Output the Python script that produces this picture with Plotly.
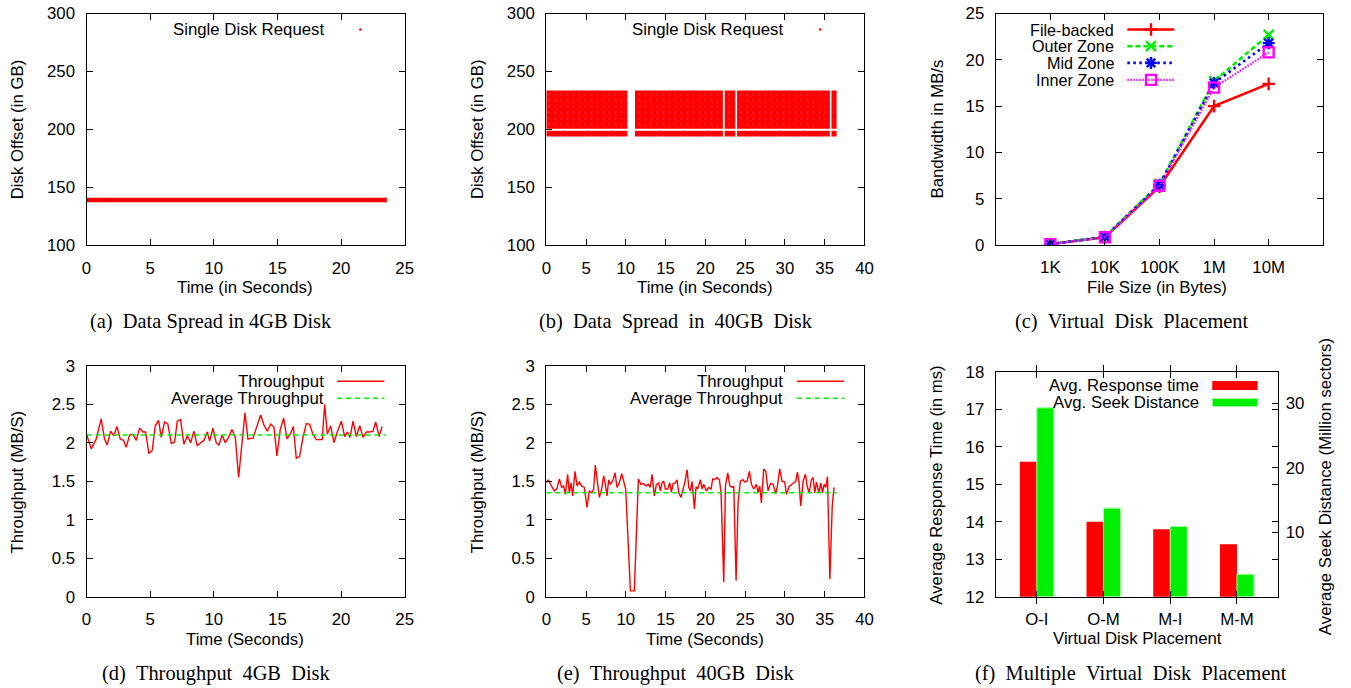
import plotly.graph_objects as go

# The page photo covers a 1367x707 area (figure plus the 8px body margin) and is
# resampled to 1351x688; positions below are given in final picture pixels and
# mapped back into figure space.
PIC_W, PIC_H = 1351, 688
BODY = 8
SX, SY = PIC_W / 1367.0, PIC_H / 707.0
W, H = 1351, 691
SANS = "Liberation Sans"
SERIF = "Liberation Serif"
FS = 16.8          # tick / label font size
KEYFS = 16.2       # legend label font size
CAP = 20.4         # caption font size
RED, GREEN, BLUE, MAGENTA = "#ff0000", "#00ee00", "#0000ff", "#ff00ff"

# ---------------- data ----------------
# (a) 4GB disk: span of issued requests (time in s, offset in GB)
req4_t_start = [0.0]
req4_t_end = [23.6]
req4_off_low = 137.1
req4_off_high = 141.0

# (b) 40GB disk: request bursts, split around the 200GB boundary
req40_t_start = [0.0, 11.15, 22.43, 23.98, 35.85]
req40_t_end = [10.2, 22.2, 23.77, 35.65, 36.5]
req40_upper_band = [200.5, 233.6]
req40_lower_band = [194.0, 198.8]

# (c) bandwidth vs file size
file_sizes = ["1K", "10K", "100K", "1M", "10M"]
bw_file_backed = [0.1, 0.85, 6.3, 15.0, 17.4]
bw_outer_zone = [0.1, 0.9, 6.6, 17.7, 22.7]
bw_mid_zone = [0.1, 0.9, 6.5, 17.5, 21.8]
bw_inner_zone = [0.1, 0.85, 6.4, 17.0, 20.8]

# (d) throughput, 4GB disk
t4 = [0.0, 0.37, 0.76, 1.15, 1.41, 1.62, 1.89, 2.15, 2.39, 2.65, 2.91, 3.12, 3.38, 3.64,
      3.91, 4.17, 4.43, 4.64, 4.90, 5.16, 5.40, 5.66, 5.87, 6.13, 6.39, 6.66, 6.92, 7.13,
      7.39, 7.65, 7.92, 8.18, 8.44, 8.70, 8.96, 9.22, 9.49, 9.67, 9.93, 10.19, 10.40,
      10.66, 10.90, 11.16, 11.43, 11.69, 11.95, 12.45, 12.68, 13.08, 13.34, 13.68, 13.94,
      14.20, 14.46, 14.73, 14.96, 15.22, 15.49, 15.75, 16.01, 16.25, 16.48, 16.74, 17.01,
      17.27, 17.53, 17.79, 18.05, 18.31, 18.52, 18.71, 18.92, 19.18, 19.44, 19.70, 20.02,
      20.28, 20.49, 20.70, 20.94, 21.20, 21.47, 21.73, 21.99, 22.25, 22.51, 22.72, 22.99,
      23.22]
tp4 = [2.11, 1.92, 2.05, 2.31, 2.05, 1.97, 2.15, 2.09, 2.21, 2.05, 2.03, 1.94, 2.10, 2.11,
       2.03, 2.19, 2.14, 2.14, 1.86, 1.90, 2.22, 2.29, 2.07, 2.27, 2.24, 1.99, 2.01, 2.28,
       2.30, 1.98, 2.09, 2.00, 2.15, 1.96, 2.00, 2.03, 2.14, 2.02, 2.19, 2.00, 1.97,
       2.10, 2.00, 2.07, 2.17, 2.07, 1.55, 2.39, 2.05, 2.06, 2.19, 2.36, 2.23,
       2.15, 2.24, 2.20, 1.83, 2.17, 2.32, 2.05, 2.11, 2.21, 1.80, 1.82, 2.07,
       2.25, 2.24, 2.11, 2.04, 2.04, 2.04, 2.50, 2.11, 2.22, 2.00, 2.14, 2.28,
       2.08, 2.14, 2.07, 2.28, 2.08, 2.22, 2.07, 2.14, 2.14, 2.15, 2.27, 2.08,
       2.21]
avg_tp4 = 2.1
avg_span4 = [0.0, 23.5]

# (e) throughput, 40GB disk
t40 = [0.0, 0.25, 0.59, 1.01, 1.34, 1.64, 1.93, 2.18, 2.39, 2.68, 2.89, 3.10, 3.31, 3.61,
       3.86, 4.15, 4.44, 4.78, 5.11, 5.41, 5.70, 5.95, 6.16, 6.46, 6.67, 6.96, 7.21, 7.42,
       7.63, 7.84, 8.05, 8.34, 8.64, 8.89, 9.18, 9.48, 9.73, 9.98, 10.57, 11.07, 11.57,
       11.91, 12.20, 12.54, 12.83, 13.08, 13.29, 13.58, 13.84, 14.13, 14.34, 14.55, 14.76,
       14.97, 15.27, 15.52, 15.73, 15.94, 16.23, 16.44, 16.65, 16.94, 17.20, 17.40, 17.70,
       17.91, 18.12, 18.32, 18.62, 18.83, 19.04, 19.37, 19.58, 19.79, 20.13, 20.42, 20.71,
       20.92, 21.17, 21.47, 21.76, 21.97, 22.31, 22.52, 22.81, 23.07, 23.36, 23.57, 23.86,
       24.11, 24.40, 24.70, 24.95, 25.24, 25.54, 25.79, 26.08, 26.42, 26.62, 26.83, 27.04,
       27.34, 27.59, 27.88, 28.18, 28.51, 28.85, 29.06, 29.35, 29.64, 29.98, 30.19, 30.52,
       30.82, 31.11, 31.36, 31.57, 31.78, 31.99, 32.29, 32.58, 32.79, 33.04, 33.33, 33.54,
       33.75, 33.96, 34.26, 34.51, 34.72, 34.93, 35.14, 35.35, 35.65, 35.95, 36.17]
tp40 = [1.48, 1.52, 1.45, 1.375, 1.405, 1.53, 1.42, 1.44, 1.33, 1.59, 1.35, 1.48, 1.31, 1.63,
        1.44, 1.49, 1.44, 1.42, 1.16, 1.375, 1.35, 1.40, 1.71, 1.48, 1.29, 1.40, 1.57, 1.46,
        1.31, 1.52, 1.46, 1.50, 1.61, 1.42, 1.48, 1.60, 1.50, 1.40, 0.078, 0.078, 1.53,
        1.46, 1.47, 1.44, 1.46, 1.42, 1.59, 1.31, 1.46, 1.48, 1.375, 1.48, 1.50,
        1.40, 1.40, 1.48, 1.36, 1.47, 1.48, 1.52, 1.35, 1.29, 1.40, 1.48, 1.65,
        1.42, 1.375, 1.50, 1.14, 1.43, 1.40, 1.52, 1.40, 1.46, 1.375, 1.42, 1.40,
        1.53, 1.52, 1.55, 1.52, 1.35, 0.19, 1.44, 1.61, 1.44, 1.42, 1.43, 0.21,
        1.22, 1.50, 1.52, 1.49, 1.50, 1.63, 1.46, 1.40, 1.46, 1.35, 1.44, 1.22,
        1.66, 1.63, 1.375, 1.47, 1.46, 1.34, 1.44, 1.66, 1.50, 1.49, 1.33, 1.43,
        1.46, 1.48, 1.50, 1.62, 1.48, 1.18, 1.50, 1.59, 1.44, 1.35, 1.52, 1.55,
        1.35, 1.49, 1.35, 1.48, 1.35, 1.46, 1.42, 1.56, 0.23, 1.18, 1.42]
avg_tp40 = 1.35
avg_span40 = [0.0, 36.5]

# (f) multiple virtual disk placement
placements = ["O-I", "O-M", "M-I", "M-M"]
resp_time_ms = [15.6, 14.0, 13.8, 13.4]
seek_dist_msect = [29.3, 13.75, 10.9, 3.5]


# ---------------- helpers ----------------
def adj_x(px):
    # small horizontal trim of the resampled photo (3.5px at the left, 1px at the right)
    return px + 3.5 - 2.5 * px / PIC_W


def fx(px):
    return (adj_x(px) / SX - BODY) / W


def fy(py):
    return 1 - (py / SY - BODY) / H


def blocks(t0s, t1s, lo, hi):
    xs, ys = [], []
    for a, b in zip(t0s, t1s):
        xs += [a, b, b, a, a, None]
        ys += [lo, lo, hi, hi, lo, None]
    return xs, ys


def axis(domain, rng, **kw):
    d = dict(domain=domain, range=rng, showline=True, linecolor="black", linewidth=1.3,
             mirror="allticks", ticks="inside", ticklen=6, tickwidth=1.2, tickcolor="black",
             showgrid=False, zeroline=False, fixedrange=True, ticklabelstandoff=7,
             tickfont=dict(family=SANS, size=FS, color="black"))
    d.update(kw)
    return d


# panel frames in picture pixels: (left, right, top, bottom)
A = (86, 404.3, 12.3, 244.3)
B = (546, 864.3, 12.3, 244.3)
C = (995.7, 1323.3, 12.3, 244.0)
D = (86, 404.3, 364.7, 596.0)
E = (546, 864.3, 364.7, 596.0)
F = (995.7, 1277.7, 370.7, 596.0)


def xdom(p):
    return [fx(p[0]), fx(p[1])]


def ydom(p):
    return [fy(p[3]), fy(p[2])]


fig = go.Figure()

# (a) requests on the 4GB disk
xa, ya = blocks(req4_t_start, req4_t_end, req4_off_low, req4_off_high)
fig.add_trace(go.Scatter(x=xa, y=ya, fill="toself", fillcolor=RED, mode="lines",
                         line=dict(width=0, color=RED), xaxis="x", yaxis="y",
                         showlegend=False, hoverinfo="skip"))

# (b) requests on the 40GB disk
speckle = dict(shape=".", bgcolor=RED, fgcolor="#ffffff", fgopacity=0.35, size=6,
               solidity=0.05)
for band in (req40_upper_band, req40_lower_band):
    xb, yb = blocks(req40_t_start, req40_t_end, band[0], band[1])
    fig.add_trace(go.Scatter(x=xb, y=yb, fill="toself", fillcolor=RED, fillpattern=speckle,
                             mode="lines", line=dict(width=0, color=RED),
                             xaxis="x2", yaxis="y2", showlegend=False, hoverinfo="skip"))

# (c) bandwidth curves
xpos = list(range(1, len(file_sizes) + 1))
series_c = [
    (bw_file_backed, RED, "solid", 2.6, "cross-thin", 9),
    (bw_outer_zone, GREEN, "5px,3px", 2.6, "x-thin", 10),
    (bw_mid_zone, BLUE, "2.5px,3.5px", 2.6, "asterisk", 10),
    (bw_inner_zone, MAGENTA, "1.5px,1.5px", 2.2, "square-open", 10),
]
for vals, col, dash, lw, sym, ms in series_c:
    fig.add_trace(go.Scatter(x=xpos, y=vals, mode="lines+markers",
                             line=dict(color=col, width=lw, dash=dash),
                             marker=dict(symbol=sym, size=ms, color=col,
                                         line=dict(color=col, width=2.4)),
                             xaxis="x3", yaxis="y3", showlegend=False, hoverinfo="skip"))

# (d) throughput 4GB
fig.add_trace(go.Scatter(x=t4, y=tp4, mode="lines", line=dict(color=RED, width=1.4),
                         xaxis="x4", yaxis="y4", showlegend=False, hoverinfo="skip"))
fig.add_trace(go.Scatter(x=avg_span4, y=[avg_tp4, avg_tp4], mode="lines",
                         line=dict(color=GREEN, width=1.6, dash="5px,4px"),
                         xaxis="x4", yaxis="y4", showlegend=False, hoverinfo="skip"))

# (e) throughput 40GB
fig.add_trace(go.Scatter(x=t40, y=tp40, mode="lines", line=dict(color=RED, width=1.4),
                         xaxis="x5", yaxis="y5", showlegend=False, hoverinfo="skip"))
fig.add_trace(go.Scatter(x=avg_span40, y=[avg_tp40, avg_tp40], mode="lines",
                         line=dict(color=GREEN, width=1.6, dash="5px,4px"),
                         xaxis="x5", yaxis="y5", showlegend=False, hoverinfo="skip"))

# (f) grouped bars on two y axes
cat_x = list(range(len(placements)))
fig.add_trace(go.Bar(x=cat_x, y=resp_time_ms, width=0.255, offset=-0.255,
                     marker=dict(color=RED, line=dict(width=0)),
                     xaxis="x6", yaxis="y6", showlegend=False, hoverinfo="skip"))
fig.add_trace(go.Bar(x=cat_x, y=seek_dist_msect, width=0.255, offset=0.0,
                     marker=dict(color=GREEN, line=dict(width=1, color="#9cff9c")),
                     xaxis="x6", yaxis="y7", showlegend=False, hoverinfo="skip"))

# ---------------- legend keys (picture-pixel overlay axis) ----------------
def key(xs, ys, **kw):
    fig.add_trace(go.Scatter(x=[adj_x(v) for v in xs], y=ys, xaxis="x8", yaxis="y8",
                             showlegend=False, hoverinfo="skip", **kw))


for x0 in (360, 820):
    key([x0], [28.3], mode="markers", marker=dict(color=RED, size=2.5))

key_rows_c = [28.3, 45.0, 61.7, 78.7]
for (vals, col, dash, lw, sym, ms), yy in zip(series_c, key_rows_c):
    key([1127.3, 1174.3], [yy, yy], mode="lines", line=dict(color=col, width=lw, dash=dash))
    key([1151], [yy], mode="markers",
        marker=dict(symbol=sym, size=ms, color=col, line=dict(color=col, width=2.4)))

for off in (0, 460):
    key([336.7 + off, 384 + off], [380.3, 380.3], mode="lines", line=dict(color=RED, width=1.4))
    key([336.7 + off, 384 + off], [397.3, 397.3], mode="lines",
        line=dict(color=GREEN, width=1.6, dash="5px,4px"))

shapes = [
    dict(type="rect", xref="paper", yref="paper", x0=fx(1212.3), x1=fx(1257.7),
         y0=fy(389), y1=fy(380), fillcolor=RED, line=dict(width=0)),
    dict(type="rect", xref="paper", yref="paper", x0=fx(1212.3), x1=fx(1257.7),
         y0=fy(405.5), y1=fy(397.5), fillcolor=GREEN, line=dict(width=1, color="#9cff9c")),
]

# ---------------- text ----------------
ann = []


def text(s, x, y, size=FS, family=SANS, angle=0, xanchor="center"):
    ann.append(dict(text=s, x=fx(x), y=fy(y), xref="paper", yref="paper", showarrow=False,
                    xanchor=xanchor, yanchor="middle", textangle=angle,
                    font=dict(family=family, size=size, color="black")))


# legend labels
text("Single Disk Request", 325.3, 28.3, xanchor="right")
text("Single Disk Request", 785.3, 28.3, xanchor="right")
for lbl, yy in zip(["File-backed", "Outer Zone", "Mid Zone", "Inner Zone"], key_rows_c):
    text(lbl, 1116, yy, size=KEYFS, xanchor="right")
for off in (0, 460):
    text("Throughput", 325.3 + off, 380.3, xanchor="right")
    text("Average Throughput", 325.3 + off, 397.3, xanchor="right")
text("Avg. Response time", 1201, 384.3, xanchor="right")
text("Avg. Seek Distance", 1201, 401.7, xanchor="right")

# axis titles
text("Disk Offset (in GB)", 17.3, 128.3, angle=-90)
text("Disk Offset (in GB)", 477.3, 128.3, angle=-90)
text("Time (in Seconds)", 244.7, 286)
text("Time (in Seconds)", 704.7, 286)
text("Bandwidth in MB/s", 937, 128.3, angle=-90)
text("File Size (in Bytes)", 1157, 286)
text("Throughput (MB/S)", 17.3, 480.8, angle=-90)
text("Throughput (MB/S)", 477.3, 480.8, angle=-90)
text("Time (Seconds)", 244.7, 638.3)
text("Time (Seconds)", 704.7, 638.3)
text("Average Response Time (in ms)", 936.7, 484, angle=-90)
text("Average Seek Distance (Million sectors)", 1326.3, 486, angle=-90)
text("Virtual Disk Placement", 1137, 637.3)

# sub-figure captions
S = " \u00a0"
text("(a)" + S + "Data Spread in 4GB Disk", 211, 320, size=CAP, family=SERIF)
text("(b)" + S + "Data" + S + "Spread" + S + "in" + S + "40GB" + S + "Disk", 676, 320,
     size=CAP, family=SERIF)
text("(c)" + S + "Virtual" + S + "Disk" + S + "Placement", 1132, 320, size=CAP, family=SERIF)
text("(d)" + S + "Throughput" + S + "4GB" + S + "Disk", 216, 672.5, size=CAP, family=SERIF)
text("(e)" + S + "Throughput" + S + "40GB" + S + "Disk", 676, 672.5, size=CAP, family=SERIF)
text("(f)" + S + "Multiple" + S + "Virtual" + S + "Disk" + S + "Placement", 1131, 672.5,
     size=CAP, family=SERIF)

fig.update_layout(
    width=W, height=H, margin=dict(l=0, r=0, t=0, b=0),
    paper_bgcolor="white", plot_bgcolor="rgba(0,0,0,0)",
    showlegend=False, barmode="overlay",
    xaxis=axis(xdom(A), [0, 25], dtick=5, anchor="y"),
    yaxis=axis(ydom(A), [100, 300], dtick=50, anchor="x"),
    xaxis2=axis(xdom(B), [0, 40], dtick=5, anchor="y2"),
    yaxis2=axis(ydom(B), [100, 300], dtick=50, anchor="x2"),
    xaxis3=axis(xdom(C), [0, len(file_sizes) + 1], tickvals=xpos, ticktext=file_sizes,
                anchor="y3"),
    yaxis3=axis(ydom(C), [0, 25], dtick=5, anchor="x3"),
    xaxis4=axis(xdom(D), [0, 25], dtick=5, anchor="y4"),
    yaxis4=axis(ydom(D), [0, 3], dtick=0.5, anchor="x4"),
    xaxis5=axis(xdom(E), [0, 40], dtick=5, anchor="y5"),
    yaxis5=axis(ydom(E), [0, 3], dtick=0.5, anchor="x5"),
    xaxis6=axis(xdom(F), [-0.615, len(placements) - 0.39], tickvals=cat_x,
                ticktext=placements, anchor="y6"),
    yaxis6=axis(ydom(F), [12, 18], dtick=1, anchor="x6"),
    yaxis7=axis(ydom(F), [0, 34.9], tickvals=[10, 20, 30], overlaying="y6", side="right",
                anchor="x6", showline=False, mirror=False),
    xaxis8=dict(domain=[0, 1], range=[BODY * SX, (W + BODY) * SX], visible=False,
                fixedrange=True, anchor="y8"),
    yaxis8=dict(domain=[0, 1], range=[(H + BODY) * SY, BODY * SY], visible=False,
                fixedrange=True, anchor="x8"),
    shapes=shapes, annotations=ann,
)

fig.write_html("out.html")
